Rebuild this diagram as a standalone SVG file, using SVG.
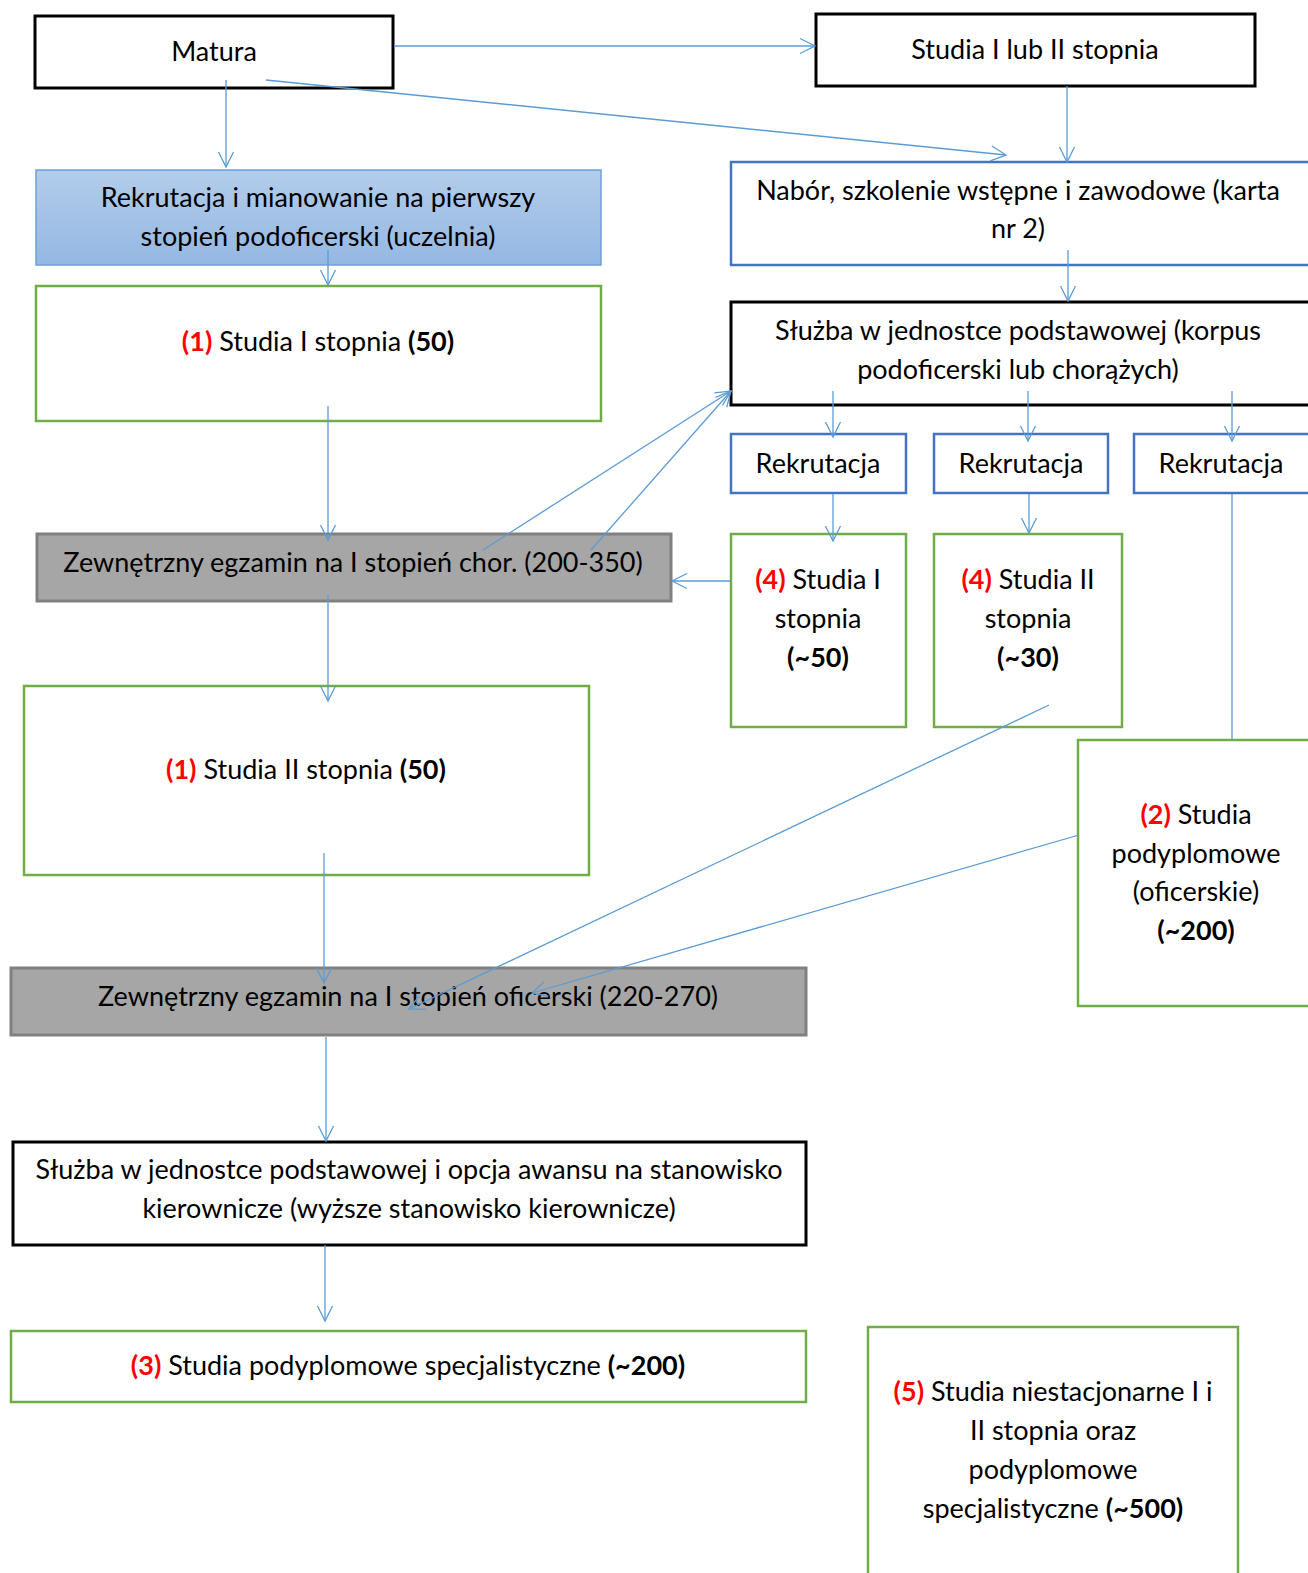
<svg xmlns="http://www.w3.org/2000/svg" width="1308" height="1573" viewBox="0 0 1308 1573">
<defs>
<linearGradient id="gb" x1="0" y1="0" x2="0" y2="1"><stop offset="0" stop-color="#b3cdeb"/><stop offset="1" stop-color="#94b7e2"/></linearGradient>
<marker id="ah" markerUnits="userSpaceOnUse" viewBox="-17 -9 19 18" refX="0" refY="0" markerWidth="19" markerHeight="18" orient="auto"><path d="M-15,-7.5 L0,0 L-15,7.5" fill="none" stroke="#5b9bd5" stroke-width="1.3"/></marker>
</defs>
<style>
text{font-family:Lato,"Liberation Sans",sans-serif;font-size:27px;fill:#000;text-anchor:middle}
.r{fill:#ff0000;font-weight:bold}
.b{font-weight:bold}
.bk{fill:#fff;stroke:#000;stroke-width:3}
.bl{fill:#fff;stroke:#4472c4;stroke-width:2.5}
.gr{fill:#fff;stroke:#70ad47;stroke-width:2.5}
.gy{fill:#a6a6a6;stroke:#808080;stroke-width:3}
.c line{stroke:#5b9bd5;stroke-width:1.3;fill:none}
.a{marker-end:url(#ah)}
</style>
<rect width="1308" height="1573" fill="#fff"/>
<g id="matura"><rect class="bk" x="35" y="16" width="358" height="72"/><text x="214" y="61">Matura</text></g>
<g id="studia-i-lub-ii"><rect class="bk" x="816" y="14" width="439" height="72"/><text x="1035" y="59">Studia I lub II stopnia</text></g>
<g id="rekrutacja-mianowanie"><rect x="36" y="170" width="565" height="95" fill="url(#gb)" stroke="#6fa0d8" stroke-width="1.5"/><text x="318" y="207">Rekrutacja i mianowanie na pierwszy</text><text x="318" y="246">stopień podoficerski (uczelnia)</text></g>
<g id="studia-1-i"><rect class="gr" x="36" y="286" width="565" height="135"/><text x="318" y="351"><tspan class="r">(1)</tspan> Studia I stopnia <tspan class="b">(50)</tspan></text></g>
<g id="egzamin-chor"><rect class="gy" x="37" y="534" width="634" height="67"/><text x="353" y="572">Zewnętrzny egzamin na I stopień chor. (200-350)</text></g>
<g id="studia-1-ii"><rect class="gr" x="24" y="686" width="565" height="189"/><text x="306" y="779"><tspan class="r">(1)</tspan> Studia II stopnia <tspan class="b">(50)</tspan></text></g>
<g id="egzamin-oficerski"><rect class="gy" x="11" y="968" width="795" height="67"/><text x="408" y="1006">Zewnętrzny egzamin na I stopień oficerski (220-270)</text></g>
<g id="sluzba-awans"><rect class="bk" x="13" y="1142" width="793" height="103"/><text x="409" y="1179">Służba w jednostce podstawowej i opcja awansu na stanowisko</text><text x="409" y="1218">kierownicze (wyższe stanowisko kierownicze)</text></g>
<g id="studia-3"><rect class="gr" x="11" y="1331" width="795" height="71"/><text x="408" y="1375"><tspan class="r">(3)</tspan> Studia podyplomowe specjalistyczne <tspan class="b">(~200)</tspan></text></g>
<g id="studia-5"><rect class="gr" x="868" y="1327" width="370" height="260"/><text x="1053" y="1401"><tspan class="r">(5)</tspan> Studia niestacjonarne I i</text><text x="1053" y="1440">II stopnia oraz</text><text x="1053" y="1479">podyplomowe</text><text x="1053" y="1518">specjalistyczne <tspan class="b">(~500)</tspan></text></g>
<g id="nabor"><rect class="bl" x="731" y="162" width="590" height="103"/><text x="1018" y="200">Nabór, szkolenie wstępne i zawodowe (karta</text><text x="1018" y="238">nr 2)</text></g>
<g id="sluzba-korpus"><rect class="bk" x="731" y="302" width="590" height="103"/><text x="1018" y="340">Służba w jednostce podstawowej (korpus</text><text x="1018" y="379">podoficerski lub chorążych)</text></g>
<g id="rekrutacja-1"><rect class="bl" x="731" y="434" width="175" height="59"/><text x="818" y="473">Rekrutacja</text></g>
<g id="rekrutacja-2"><rect class="bl" x="934" y="434" width="174" height="59"/><text x="1021" y="473">Rekrutacja</text></g>
<g id="rekrutacja-3"><rect class="bl" x="1134" y="434" width="185" height="59"/><text x="1221" y="473">Rekrutacja</text></g>
<g id="studia-4-i"><rect class="gr" x="731" y="534" width="175" height="193"/><text x="818" y="589"><tspan class="r">(4)</tspan> Studia I</text><text x="818" y="628">stopnia</text><text x="818" y="667" class="b">(~50)</text></g>
<g id="studia-4-ii"><rect class="gr" x="934" y="534" width="188" height="193"/><text x="1028" y="589"><tspan class="r">(4)</tspan> Studia II</text><text x="1028" y="628">stopnia</text><text x="1028" y="667" class="b">(~30)</text></g>
<g id="studia-2"><rect class="gr" x="1078" y="740" width="245" height="266"/><text x="1196" y="824"><tspan class="r">(2)</tspan> Studia</text><text x="1196" y="863">podyplomowe</text><text x="1196" y="901">(oficerskie)</text><text x="1196" y="940" class="b">(~200)</text></g>
<g id="connectors" class="c">
<line class="a" x1="394" y1="46" x2="815" y2="46"/>
<line class="a" x1="266" y1="80" x2="1006" y2="155"/>
<line class="a" x1="226" y1="80" x2="226" y2="167"/>
<line class="a" x1="1067" y1="86" x2="1067" y2="162"/>
<line class="a" x1="328" y1="250" x2="328" y2="285"/>
<line class="a" x1="328" y1="406" x2="328" y2="540"/>
<line class="a" x1="483" y1="550" x2="731" y2="391"/>
<line class="a" x1="591" y1="550" x2="731" y2="391"/>
<line class="a" x1="731" y1="581" x2="672" y2="581"/>
<line class="a" x1="328" y1="595" x2="328" y2="701"/>
<line class="a" x1="1068" y1="250" x2="1068" y2="301"/>
<line class="a" x1="833" y1="391" x2="833" y2="437"/>
<line class="a" x1="1028" y1="391" x2="1028" y2="441"/>
<line class="a" x1="1232" y1="391" x2="1232" y2="441"/>
<line class="a" x1="833" y1="494" x2="833" y2="541"/>
<line class="a" x1="1029" y1="494" x2="1029" y2="533"/>
<line x1="1232" y1="494" x2="1232" y2="740"/>
<line class="a" x1="1049" y1="705" x2="409" y2="1009"/>
<line class="a" x1="1079" y1="835" x2="532" y2="993"/>
<line class="a" x1="324" y1="853" x2="324" y2="983"/>
<line class="a" x1="326" y1="1037" x2="326" y2="1141"/>
<line class="a" x1="325" y1="1245" x2="325" y2="1321"/>
</g>
</svg>
